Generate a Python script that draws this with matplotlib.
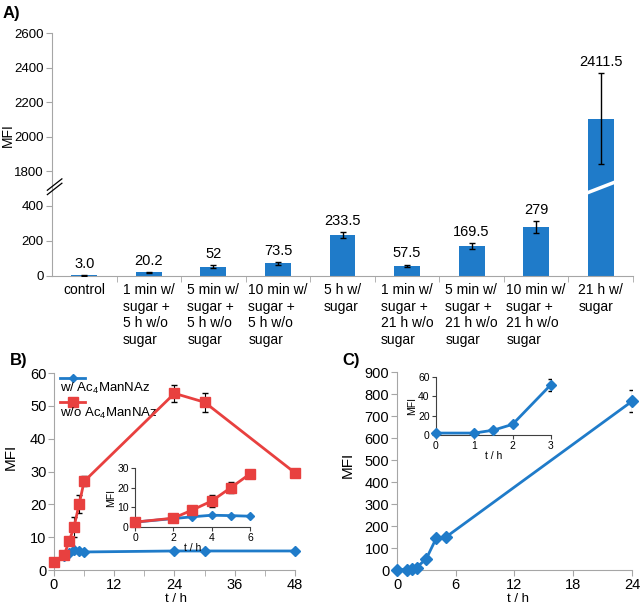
import numpy as np
import matplotlib
matplotlib.use("Agg")
import matplotlib.pyplot as plt
import matplotlib as mpl

mpl.rcParams['font.family'] = ['Liberation Sans', 'DejaVu Sans']
mpl.rcParams['mathtext.fontset'] = 'custom'
mpl.rcParams['mathtext.rm'] = 'Liberation Sans'
mpl.rcParams['mathtext.default'] = 'regular'
mpl.rcParams['axes.edgecolor'] = '#a6a6a6'
mpl.rcParams['xtick.color'] = '#a6a6a6'
mpl.rcParams['ytick.color'] = '#a6a6a6'
mpl.rcParams['xtick.labelcolor'] = 'black'
mpl.rcParams['ytick.labelcolor'] = 'black'

BLUE = '#1f7bc9'
RED = '#e8403f'

# ---- panel A data
cats_a = ['control',
          '1 min w/\nsugar +\n5 h w/o\nsugar',
          '5 min w/\nsugar +\n5 h w/o\nsugar',
          '10 min w/\nsugar +\n5 h w/o\nsugar',
          '5 h w/\nsugar',
          '1 min w/\nsugar +\n21 h w/o\nsugar',
          '5 min w/\nsugar +\n21 h w/o\nsugar',
          '10 min w/\nsugar +\n21 h w/o\nsugar',
          '21 h w/\nsugar']
mfi_a = [3.0, 20.2, 52, 73.5, 233.5, 57.5, 169.5, 279, 2105]
err_a = [1, 4, 8, 8, 19, 8, 17, 33, 265]
lab_a = ['3.0', '20.2', '52', '73.5', '233.5', '57.5', '169.5', '279', '2411.5']

# ---- panel B data
t_b = [0, 2, 3, 4, 5, 6, 24, 30, 48]
with_b = [2.5, 4.3, 5.2, 6.0, 5.8, 5.5, 5.8, 5.8, 5.8]
without_b = [2.5, 4.5, 8.7, 13.2, 20.0, 27.0, 53.8, 51.1, 29.6]
without_b_err = [0, 0, 1.0, 3.0, 2.7, 1.5, 2.5, 2.9, 0]

# ---- panel C data
t_c = [0, 1, 1.5, 2, 3, 4, 5, 24]
mfi_c = [2, 2, 5, 11, 52, 144, 150, 767]
err_c = [0, 0, 0, 0, 6, 0, 0, 50]

fig = plt.figure(figsize=(6.42, 6.09), dpi=100)

# ================= A (broken axis)
ax_hi = fig.add_axes([0.081, 0.6905, 0.905, 0.2553])
ax_lo = fig.add_axes([0.081, 0.5468, 0.905, 0.1437])
x = np.arange(len(cats_a))
for ax in (ax_hi, ax_lo):
    ax.bar(x, mfi_a, width=0.4, color=BLUE, zorder=2)
    ax.errorbar(x, mfi_a, yerr=err_a, fmt='none', ecolor='black',
                elinewidth=1, capsize=2.5, capthick=1, zorder=3)
    ax.set_xlim(-0.5, len(cats_a) - 0.5)
    ax.spines['right'].set_visible(False)
    ax.tick_params(axis='y', direction='out', length=4, labelsize=9.5, pad=2)
ax_hi.set_ylim(1700, 2600)
ax_hi.set_yticks([1800, 2000, 2200, 2400, 2600])
ax_hi.spines['bottom'].set_visible(False)
ax_hi.spines['top'].set_visible(False)
ax_hi.set_xticks([])
ax_lo.set_ylim(0, 500)
ax_lo.set_yticks([0, 200, 400])
ax_lo.spines['top'].set_visible(False)
ax_lo.set_xticks(x)
ax_lo.set_xticklabels(cats_a, fontsize=10, linespacing=1.25, va='top',
                      multialignment='left')
ax_lo.set_xticks(np.arange(-0.5, len(cats_a), 1.0)[1:], minor=True)
ax_lo.tick_params(axis='x', which='major', length=0, pad=5)
ax_lo.tick_params(axis='x', which='minor', length=4, direction='out')

for i, (v, e, s) in enumerate(zip(mfi_a, err_a, lab_a)):
    ax = ax_hi if v > 500 else ax_lo
    ax.annotate(s, (i, v + e), xytext=(0, 3), textcoords='offset points',
                ha='center', va='bottom', fontsize=10.5, clip_on=False)

# break marks
for dy in (0.0, 0.05):
    ax_lo.plot([-0.008, 0.017], [0.93 + dy, 1.06 + dy], transform=ax_lo.transAxes,
               color='black', lw=0.9, clip_on=False, zorder=5)
bt = mpl.transforms.blended_transform_factory(ax_lo.transData, ax_lo.transAxes)
ax_lo.plot([len(cats_a) - 1.21, len(cats_a) - 0.79], [0.95, 1.07], transform=bt,
           color='white', lw=2.5, clip_on=False, zorder=5)

fig.text(0.012, 0.778, 'MFI', rotation=90, va='center', ha='center', fontsize=10)
fig.text(0.004, 0.99, 'A)', fontsize=12, fontweight='bold', va='top')

# ================= B
ax_b = fig.add_axes([0.0841, 0.064, 0.3754, 0.3235])
ax_b.plot(t_b, with_b, color=BLUE, lw=2, marker='D', ms=5, zorder=3, clip_on=False)
ax_b.errorbar(t_b, without_b, yerr=without_b_err, fmt='none', ecolor='black',
              elinewidth=0.8, capsize=2.5, zorder=2)
ax_b.plot(t_b, without_b, color=RED, lw=2, marker='s', ms=7, zorder=4, clip_on=False)
ax_b.set_xlim(0, 48)
ax_b.set_ylim(0, 60)
ax_b.set_xticks([0, 12, 24, 36, 48])
ax_b.set_xticks([6, 18, 30, 42], minor=True)
ax_b.set_yticks(range(0, 61, 10))
ax_b.spines['top'].set_visible(False)
ax_b.spines['right'].set_visible(False)
ax_b.tick_params(which='both', direction='out', length=4, labelsize=10.5, pad=1.5)
ax_b.set_ylabel('MFI', fontsize=11)
ax_b.yaxis.set_label_coords(-0.149, 0.574)
ax_b.set_xlabel('t / h', fontsize=9.5)
ax_b.xaxis.set_label_coords(0.506, -0.117)

# legend (text below the handle)
ax_b.plot([0.025, 0.129], [0.975, 0.975], transform=ax_b.transAxes, color=BLUE, lw=2,
          clip_on=False)
ax_b.plot([0.077], [0.975], transform=ax_b.transAxes, color=BLUE, marker='D', ms=4.5,
          clip_on=False)
ax_b.text(0.025, 0.92, r'w/ Ac$_4$ManNAz', transform=ax_b.transAxes, fontsize=9.5,
          va='center', ha='left')
ax_b.plot([0.025, 0.129], [0.851, 0.851], transform=ax_b.transAxes, color=RED, lw=2,
          clip_on=False)
ax_b.plot([0.077], [0.851], transform=ax_b.transAxes, color=RED, marker='s', ms=6.5,
          clip_on=False)
ax_b.text(0.025, 0.797, r'w/o Ac$_4$ManNAz', transform=ax_b.transAxes, fontsize=9.5,
          va='center', ha='left')
fig.text(0.016, 0.42, 'B)', fontsize=12, fontweight='bold', va='top')

# inset B
ins_b = fig.add_axes([0.2103, 0.1346, 0.179, 0.0969])
n_in = 6
ins_b.plot(t_b[:n_in], with_b[:n_in], color=BLUE, lw=2, marker='D', ms=4.5,
           zorder=3, clip_on=False)
ins_b.errorbar(t_b[:n_in], without_b[:n_in], yerr=without_b_err[:n_in], fmt='none',
               ecolor='black', elinewidth=0.8, capsize=2, zorder=2)
ins_b.plot(t_b[:n_in], without_b[:n_in], color=RED, lw=2, marker='s', ms=6.5,
           zorder=4, clip_on=False)
ins_b.set_xlim(0, 6)
ins_b.set_ylim(0, 30)
ins_b.set_xticks([0, 2, 4, 6])
ins_b.set_yticks([0, 10, 20, 30])
ins_b.patch.set_alpha(0)
for s in ('top', 'right'):
    ins_b.spines[s].set_visible(False)
for s in ('left', 'bottom'):
    ins_b.spines[s].set_color('#404040')
ins_b.tick_params(direction='out', length=3, labelsize=7.5, pad=1.5, color='#404040')
ins_b.set_ylabel('MFI', fontsize=7.5, labelpad=1)
ins_b.set_xlabel('t / h', fontsize=7.5, labelpad=0)

# ================= C
ax_c = fig.add_axes([0.6184, 0.064, 0.366, 0.3251])
ax_c.errorbar(t_c, mfi_c, yerr=err_c, fmt='none', ecolor='black',
              elinewidth=0.8, capsize=2.5, zorder=2)
ax_c.plot(t_c, mfi_c, color=BLUE, lw=2, marker='D', ms=6, zorder=3, clip_on=False)
ax_c.set_xlim(0, 24)
ax_c.set_ylim(0, 900)
ax_c.set_xticks([0, 6, 12, 18, 24])
ax_c.set_yticks(range(0, 901, 100))
ax_c.spines['top'].set_visible(False)
ax_c.spines['right'].set_visible(False)
ax_c.tick_params(direction='out', length=4, labelsize=10.5, pad=1.5)
ax_c.set_ylabel('MFI', fontsize=11)
ax_c.yaxis.set_label_coords(-0.179, 0.532)
ax_c.set_xlabel('t / h', fontsize=9.5)
ax_c.xaxis.set_label_coords(0.515, -0.116)
fig.text(0.534, 0.42, 'C)', fontsize=12, fontweight='bold', va='top')

# inset C
ins_c = fig.add_axes([0.679, 0.2857, 0.179, 0.0952])
n_c = 5
ins_c.errorbar(t_c[:n_c], mfi_c[:n_c], yerr=err_c[:n_c], fmt='none', ecolor='black',
               elinewidth=0.8, capsize=2, zorder=2)
ins_c.plot(t_c[:n_c], mfi_c[:n_c], color=BLUE, lw=2, marker='D', ms=5, zorder=3,
           clip_on=False)
ins_c.set_xlim(0, 3)
ins_c.set_ylim(0, 60)
ins_c.set_xticks([0, 1, 2, 3])
ins_c.set_yticks([0, 20, 40, 60])
ins_c.patch.set_alpha(0)
for s in ('top', 'right'):
    ins_c.spines[s].set_visible(False)
for s in ('left', 'bottom'):
    ins_c.spines[s].set_color('#404040')
ins_c.tick_params(direction='out', length=3, labelsize=7.5, pad=1.5, color='#404040')
ins_c.set_ylabel('MFI', fontsize=7.5, labelpad=1)
ins_c.set_xlabel('t / h', fontsize=7.5, labelpad=0)

fig.savefig('out.png', dpi=100)
